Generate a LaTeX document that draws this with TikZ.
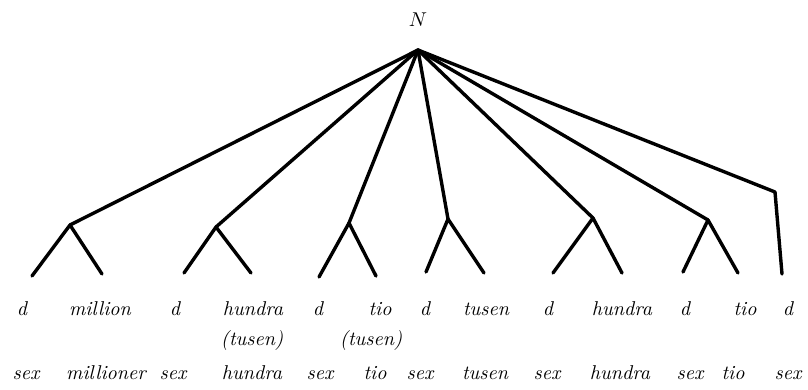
\documentclass[tikz,border=0pt]{standalone}
\usepackage{tikz}
\usetikzlibrary{positioning}

\begin{document}
\begin{tikzpicture}[
        x=0.5pt, y=-0.5pt,
        font=\itshape,
        branch/.style={line width=1.7pt, line cap=round, line join=round},
        word/.style={anchor=base, inner sep=0pt}
    ]
    \useasboundingbox (0,0) rectangle (808,390);

    %--- Root ---
    \node (root) at (418,20) {$N$};
    \coordinate (top) at (418,50);

    %--- Branch points ---
    \coordinate (b1) at (70,225);
    \coordinate (b2) at (216,227);
    \coordinate (b3) at (349,223);
    \coordinate (b4) at (448,219);
    \coordinate (b5) at (593,218);
    \coordinate (b6) at (708,220);
    \coordinate (b7) at (775,192);

    %--- Leaf ends ---
    \coordinate (e1a) at (32,276);  \coordinate (e1b) at (102,274);
    \coordinate (e2a) at (184,273); \coordinate (e2b) at (251,273);
    \coordinate (e3a) at (319,277); \coordinate (e3b) at (376,276);
    \coordinate (e4a) at (426,272); \coordinate (e4b) at (484,273);
    \coordinate (e5a) at (553,273); \coordinate (e5b) at (622,273);
    \coordinate (e6a) at (683,272); \coordinate (e6b) at (738,273);
    \coordinate (e7)  at (782,274);

    %--- Branches from the root ---
    \draw[branch] (top) -- (b1);
    \draw[branch] (top) -- (b2);
    \draw[branch] (top) -- (b3);
    \draw[branch] (top) -- (b4);
    \draw[branch] (top) -- (b5);
    \draw[branch] (top) -- (b6);
    \draw[branch] (top) -- (b7) -- (e7);

    %--- Forks ---
    \draw[branch] (e1a) -- (b1) -- (e1b);
    \draw[branch] (e2a) -- (b2) -- (e2b);
    \draw[branch] (e3a) -- (b3) -- (e3b);
    \draw[branch] (e4a) -- (b4) -- (e4b);
    \draw[branch] (e5a) -- (b5) -- (e5b);
    \draw[branch] (e6a) -- (b6) -- (e6b);

    %--- Terminal symbols ---
    \node[word] (d1) at (22,315) {d};
    \node[word] (mil) at (100,315) {million};
    \node[word] (d2) at (175,315) {d};
    \node[word] (hun1) at (253,315) {hundra};
    \node[word] (tus1) at (252,345) {(tusen)};
    \node[word] (d3) at (318,315) {d};
    \node[word] (tio1) at (380,315) {tio};
    \node[word] (tus2) at (371,345) {(tusen)};
    \node[word] (d4) at (425,315) {d};
    \node[word] (tus3) at (486,315) {tusen};
    \node[word] (d5) at (548,315) {d};
    \node[word] (hun2) at (622,315) {hundra};
    \node[word] (d6) at (685,315) {d};
    \node[word] (tio2) at (745,315) {tio};
    \node[word] (d7) at (788,315) {d};

    %--- Surface words ---
    \node[word] (s1) at (26,379) {sex};
    \node[word] (mils) at (106,379) {millioner};
    \node[word] (s2) at (173,379) {sex};
    \node[word] (huns1) at (252,379) {hundra};
    \node[word] (s3) at (320,379) {sex};
    \node[word] (tios1) at (375,379) {tio};
    \node[word] (s4) at (420,379) {sex};
    \node[word] (tuss) at (485,379) {tusen};
    \node[word] (s5) at (547,379) {sex};
    \node[word] (huns2) at (620,379) {hundra};
    \node[word] (s6) at (690,379) {sex};
    \node[word] (tios2) at (733,379) {tio};
    \node[word] (s7) at (788,379) {sex};
\end{tikzpicture}
\end{document}
